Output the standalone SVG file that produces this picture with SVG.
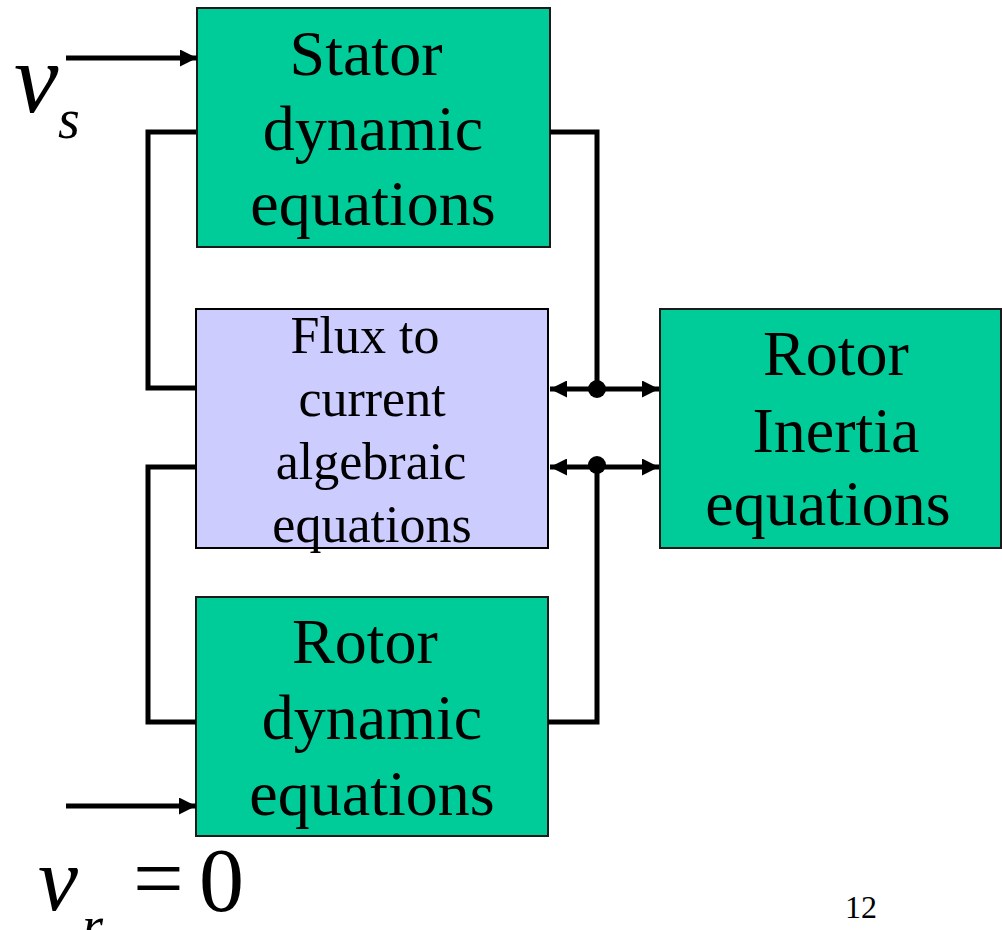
<svg xmlns="http://www.w3.org/2000/svg" width="1002" height="930" viewBox="0 0 1002 930">
<style>
.g{fill:#00CC99;stroke:#1a1a1a;stroke-width:2}
.p{fill:#CCCCFF;stroke:#000;stroke-width:2}
.t{font-family:"Liberation Serif","Times New Roman",serif;font-size:64px;text-anchor:middle;fill:#000}
.f{font-family:"Liberation Serif","Times New Roman",serif;font-size:52px;text-anchor:middle;fill:#000}
.w{fill:none;stroke:#000;stroke-width:5}
.m{font-family:"Liberation Serif","Times New Roman",serif;fill:#000}
</style>
<defs>
<marker id="ah" viewBox="0 0 10 10" refX="10" refY="5" markerWidth="3.4" markerHeight="3.4" orient="auto-start-reverse" markerUnits="strokeWidth">
<path d="M0,0 L10,5 L0,10 z" fill="#000"/>
</marker>
</defs>
<g id="stator">
<rect class="g" x="197" y="8" width="353" height="239"/>
<text class="t" x="366" y="75">Stator</text>
<text class="t" x="373" y="150">dynamic</text>
<text class="t" x="373" y="225">equations</text>
</g>
<g id="flux">
<rect class="p" x="196" y="309" width="352" height="239"/>
<text class="f" x="365" y="353">Flux to</text>
<text class="f" x="372" y="416">current</text>
<text class="f" x="371" y="479">algebraic</text>
<text class="f" x="372" y="542">equations</text>
</g>
<g id="rotordyn">
<rect class="g" x="196" y="597" width="352" height="239"/>
<text class="t" x="365" y="663">Rotor</text>
<text class="t" x="372" y="739">dynamic</text>
<text class="t" x="372" y="815">equations</text>
</g>
<g id="inertia">
<rect class="g" x="660" y="309" width="341" height="239"/>
<text class="t" x="836" y="375">Rotor</text>
<text class="t" x="836" y="452">Inertia</text>
<text class="t" x="828" y="525">equations</text>
</g>
<g id="connectors">
<path class="w" d="M196,132 H148 V388 H196"/>
<path class="w" d="M196,467 H148 V722 H196"/>
<path class="w" d="M550,132 H597 V389"/>
<path class="w" d="M548,722 H597 V467"/>
<path class="w" d="M597,389 H550" marker-end="url(#ah)"/>
<path class="w" d="M597,389 H659" marker-end="url(#ah)"/>
<path class="w" d="M597,467 H550" marker-end="url(#ah)"/>
<path class="w" d="M597,467 H659" marker-end="url(#ah)"/>
<circle cx="597" cy="389" r="9"/>
<circle cx="597" cy="465" r="9"/>
<path class="w" d="M66,58 H197" marker-end="url(#ah)"/>
<path class="w" d="M66,806 H196" marker-end="url(#ah)"/>
</g>
<g id="labels">
<text class="m" x="14" y="112" font-size="100" font-style="italic">v</text>
<text class="m" x="58" y="138" font-size="56" font-style="italic">s</text>
<text class="m" x="38" y="910" font-size="90" font-style="italic">v</text>
<text class="m" x="82" y="944" font-size="54" font-style="italic">r</text>
<text class="m" x="133" y="909" font-size="90">=</text>
<text class="m" x="199" y="911" font-size="90">0</text>
<text class="m" x="845" y="918" font-size="32">12</text>
</g>
</svg>
